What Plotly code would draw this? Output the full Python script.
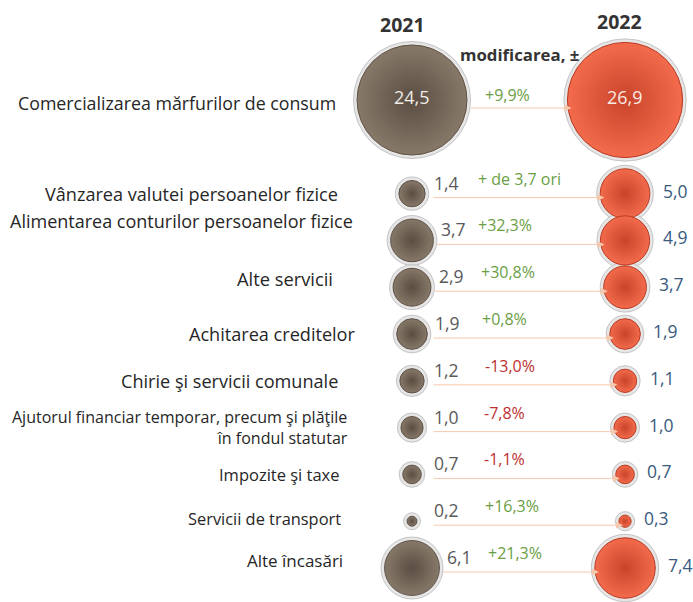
import numpy as np
import plotly.graph_objects as go

# ---------------- data ----------------
categories = [
    "Comercializarea mărfurilor de consum",
    "Vânzarea valutei persoanelor fizice",
    "Alimentarea conturilor persoanelor fizice",
    "Alte servicii",
    "Achitarea creditelor",
    "Chirie şi servicii comunale",
    "Ajutorul financiar temporar, precum şi plăţile<br>în fondul statutar",
    "Impozite şi taxe",
    "Servicii de transport",
    "Alte încasări",
]
values_2021 = [24.5, 1.4, 3.7, 2.9, 1.9, 1.2, 1.0, 0.7, 0.2, 6.1]
values_2022 = [26.9, 5.0, 4.9, 3.7, 1.9, 1.1, 1.0, 0.7, 0.3, 7.4]
changes = ["+9,9%", "+ de 3,7 ori", "+32,3%", "+30,8%", "+0,8%",
           "-13,0%", "-7,8%", "-1,1%", "+16,3%", "+21,3%"]
years = ["2021", "2022"]
change_title = "modificarea, ±"

# ---------------- styling / layout ----------------
FONT = "Open Sans"
rows = [0] + list(range(2, 2 + len(categories) - 1))  # first row set apart
X21, X22 = 0, 1
DMAX = 110.0
vmax = values_2021[0]
d21 = [DMAX * np.sqrt(v / vmax) for v in values_2021]
d22 = [DMAX * np.sqrt(v / vmax) for v in values_2022]
label_yshift = [-3, 0, 19, 9, 0, 0, 0, 0, 3, 8]
label_xshift = [-74, -72, -57, -77, -54, -72, -62, -70, -69, -67]
label_size = [17.8, 18.1, 18.0, 18.3, 18.1, 18.1, 16.0, 16.5, 16.4, 17.0]
change_xshift = [0, 12, -3, 0, -3, 2, -3, -3, 4, 7]


def fmt(v):
    return f"{v:.1f}".replace(".", ",")


fig = go.Figure()

# halos
for xc, dd in ((X21, d21), (X22, d22)):
    fig.add_trace(go.Scatter(
        x=[xc] * len(rows), y=rows, mode="markers", hoverinfo="skip",
        marker=dict(size=[d + 7 for d in dd], color="#E6E6E6", opacity=1,
                    line=dict(color="#C4C4C4", width=1)),
        showlegend=False))

# bubbles
fig.add_trace(go.Scatter(
    x=[X21] * len(rows), y=rows, mode="markers", name=years[0],
    marker=dict(size=d21, color="#877969", opacity=1,
                gradient=dict(type="radial", color="#5A4D42"),
                line=dict(color="#5E5146", width=1)),
    showlegend=False))
fig.add_trace(go.Scatter(
    x=[X22] * len(rows), y=rows, mode="markers", name=years[1],
    marker=dict(size=d22, color="#F36B4C", opacity=1,
                gradient=dict(type="radial", color="#C8442A"),
                line=dict(color="#B83A22", width=1)),
    showlegend=False))

ann = []
for i, (cat, r) in enumerate(zip(categories, rows)):
    # category label
    ann.append(dict(x=X21, y=r, xref="x", yref="y", text=cat, showarrow=False,
                    xanchor="right", yanchor="middle", align="right",
                    xshift=label_xshift[i], yshift=label_yshift[i],
                    font=dict(family=FONT, size=label_size[i], color="#262626")))
    # arrow between bubbles
    ann.append(dict(x=X22, y=r, ax=X21, ay=r, xref="x", yref="y", axref="x", ayref="y",
                    text="", showarrow=True, arrowhead=2, arrowsize=1.4,
                    arrowwidth=1, arrowcolor="#F6C9AE",
                    standoff=max(d22[i] / 2 - 4, 2),
                    startstandoff=max(d21[i] / 2 + 2, 20),
                    yshift=-4 if i else -8))
    # change label
    col = "#BE2F2F" if changes[i].startswith("-") else "#6A9E44"
    ann.append(dict(x=0.45, y=r, xref="x", yref="y", text=changes[i], showarrow=False,
                    xanchor="center", yanchor="middle",
                    xshift=change_xshift[i], yshift=5 if i == 0 else 15,
                    font=dict(family=FONT, size=16, color=col)))
    if i == 0:
        ann.append(dict(x=X21, y=r, xref="x", yref="y", text=fmt(values_2021[i]),
                        showarrow=False, font=dict(family=FONT, size=18, color="#F0ECE8"),
                        yshift=3))
        ann.append(dict(x=X22, y=r, xref="x", yref="y", text=fmt(values_2022[i]),
                        showarrow=False, font=dict(family=FONT, size=18, color="#FBEAE4"),
                        yshift=3))
    else:
        ann.append(dict(x=X21, y=r, xref="x", yref="y", text=fmt(values_2021[i]),
                        showarrow=False, xanchor="left",
                        xshift=max(d21[i] / 2 + 6, 20), yshift=11,
                        font=dict(family=FONT, size=17.5, color="#595959")))
        ann.append(dict(x=X22, y=r, xref="x", yref="y", text=fmt(values_2022[i]),
                        showarrow=False, xanchor="left",
                        xshift=d22[i] / 2 + 11, yshift=3,
                        font=dict(family=FONT, size=17.5, color="#3A5A7E")))

# headers
ann.append(dict(x=X21, y=rows[0], xref="x", yref="y", text=f"<b>{years[0]}</b>",
                showarrow=False, xshift=-10, yshift=76,
                font=dict(family=FONT, size=19.5, color="#333333")))
ann.append(dict(x=X22, y=rows[0], xref="x", yref="y", text=f"<b>{years[1]}</b>",
                showarrow=False, xshift=-6, yshift=79,
                font=dict(family=FONT, size=19.5, color="#333333")))
ann.append(dict(x=0.5, y=rows[0], xref="x", yref="y", text=f"<b>{change_title}</b>",
                showarrow=False, xshift=1, yshift=46,
                font=dict(family=FONT, size=16.8, color="#333333")))

fig.update_layout(
    width=693, height=602,
    margin=dict(l=0, r=0, t=0, b=0),
    paper_bgcolor="white", plot_bgcolor="white",
    xaxis=dict(range=[-1.934, 1.319], visible=False, fixedrange=True),
    yaxis=dict(range=[10.726, -2.137], visible=False, fixedrange=True),
    annotations=ann,
    showlegend=False,
)

fig.write_html(
    "out.html",
    config={"displayModeBar": False},
    post_script="document.body.style.margin='0';document.body.style.overflow='hidden';",
)
